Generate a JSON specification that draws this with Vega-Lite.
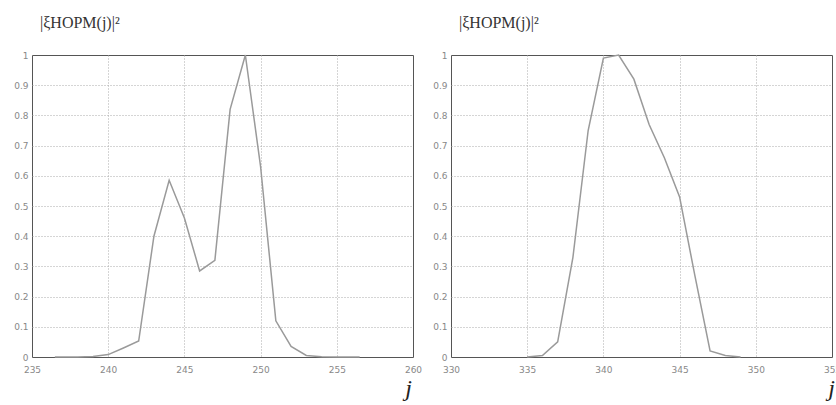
{
  "$schema": "https://vega.github.io/schema/vega-lite/v6.json",
  "background": "white",
  "padding": {"left": 13, "top": 14, "right": 0, "bottom": 0},
  "spacing": 9,
  "datasets": {
    "left": [
      {"j": 236.5, "p": 0}, {"j": 237, "p": 0}, {"j": 238, "p": 0}, {"j": 239, "p": 0.002},
      {"j": 240, "p": 0.008}, {"j": 241, "p": 0.03}, {"j": 242, "p": 0.053}, {"j": 243, "p": 0.4},
      {"j": 244, "p": 0.585}, {"j": 245, "p": 0.46}, {"j": 246, "p": 0.285}, {"j": 247, "p": 0.32},
      {"j": 248, "p": 0.82}, {"j": 249, "p": 1.0}, {"j": 250, "p": 0.63}, {"j": 251, "p": 0.12},
      {"j": 252, "p": 0.035}, {"j": 253, "p": 0.005}, {"j": 254, "p": 0.001}, {"j": 255, "p": 0},
      {"j": 256, "p": 0}, {"j": 256.5, "p": 0}
    ],
    "right": [
      {"j": 335, "p": 0}, {"j": 336, "p": 0.005}, {"j": 337, "p": 0.05}, {"j": 338, "p": 0.33},
      {"j": 339, "p": 0.75}, {"j": 340, "p": 0.99}, {"j": 341, "p": 1.0}, {"j": 342, "p": 0.92},
      {"j": 343, "p": 0.77}, {"j": 344, "p": 0.66}, {"j": 345, "p": 0.53}, {"j": 346, "p": 0.27},
      {"j": 347, "p": 0.02}, {"j": 348, "p": 0.005}, {"j": 349, "p": 0}
    ]
  },
  "config": {
    "view": {"stroke": "#555", "strokeWidth": 1},
    "axis": {
      "grid": true, "gridColor": "#aaa", "gridDash": [1, 2], "gridWidth": 1,
      "domain": false, "ticks": false,
      "labelColor": "#888", "labelFont": "DejaVu Sans", "labelFontSize": 9, "labelPadding": 4
    },
    "axisX": {"labelPadding": 8},
    "title": {
      "anchor": "start", "frame": "group", "font": "Liberation Serif", "fontSize": 16,
      "fontWeight": "normal", "color": "#333", "offset": 20, "dx": 8
    }
  },
  "hconcat": [
    {
      "title": "|ξНОРМ(j)|²",
      "width": 381, "height": 302,
      "data": {"name": "left"},
      "mark": {"type": "line", "color": "#9a9a9a", "strokeWidth": 1.5},
      "encoding": {
        "x": {
          "field": "j", "type": "quantitative",
          "scale": {"domain": [235, 260], "nice": false, "zero": false},
          "axis": {
            "values": [235, 240, 245, 250, 255, 260], "labelFlush": false,
            "gridOpacity": {"condition": {"test": "datum.value <= 235 || datum.value >= 260", "value": 0}, "value": 1},
            "title": "j", "titleFont": "Liberation Serif", "titleFontStyle": "italic",
            "titleFontSize": 24, "titleFontWeight": "normal", "titleColor": "#222",
            "titleX": 376, "titleY": 38, "titleAlign": "center", "titleBaseline": "alphabetic"
          }
        },
        "y": {
          "field": "p", "type": "quantitative",
          "scale": {"domain": [0, 1], "nice": false},
          "axis": {
            "values": [0, 0.1, 0.2, 0.3, 0.4, 0.5, 0.6, 0.7, 0.8, 0.9, 1], "format": "~g", "title": null, "labelFlush": false,
            "gridOpacity": {"condition": {"test": "datum.value <= 0 || datum.value >= 1", "value": 0}, "value": 1}
          }
        }
      }
    },
    {
      "title": "|ξНОРМ(j)|²",
      "width": 381, "height": 302,
      "data": {"name": "right"},
      "mark": {"type": "line", "color": "#9a9a9a", "strokeWidth": 1.5},
      "encoding": {
        "x": {
          "field": "j", "type": "quantitative",
          "scale": {"domain": [330, 355], "nice": false, "zero": false},
          "axis": {
            "values": [330, 335, 340, 345, 350, 355], "labelFlush": false,
            "gridOpacity": {"condition": {"test": "datum.value <= 330 || datum.value >= 355", "value": 0}, "value": 1},
            "title": "j", "titleFont": "Liberation Serif", "titleFontStyle": "italic",
            "titleFontSize": 24, "titleFontWeight": "normal", "titleColor": "#222",
            "titleX": 380, "titleY": 38, "titleAlign": "center", "titleBaseline": "alphabetic"
          }
        },
        "y": {
          "field": "p", "type": "quantitative",
          "scale": {"domain": [0, 1], "nice": false},
          "axis": {
            "values": [0, 0.1, 0.2, 0.3, 0.4, 0.5, 0.6, 0.7, 0.8, 0.9, 1], "format": "~g", "title": null, "labelFlush": false,
            "gridOpacity": {"condition": {"test": "datum.value <= 0 || datum.value >= 1", "value": 0}, "value": 1}
          }
        }
      }
    }
  ]
}
